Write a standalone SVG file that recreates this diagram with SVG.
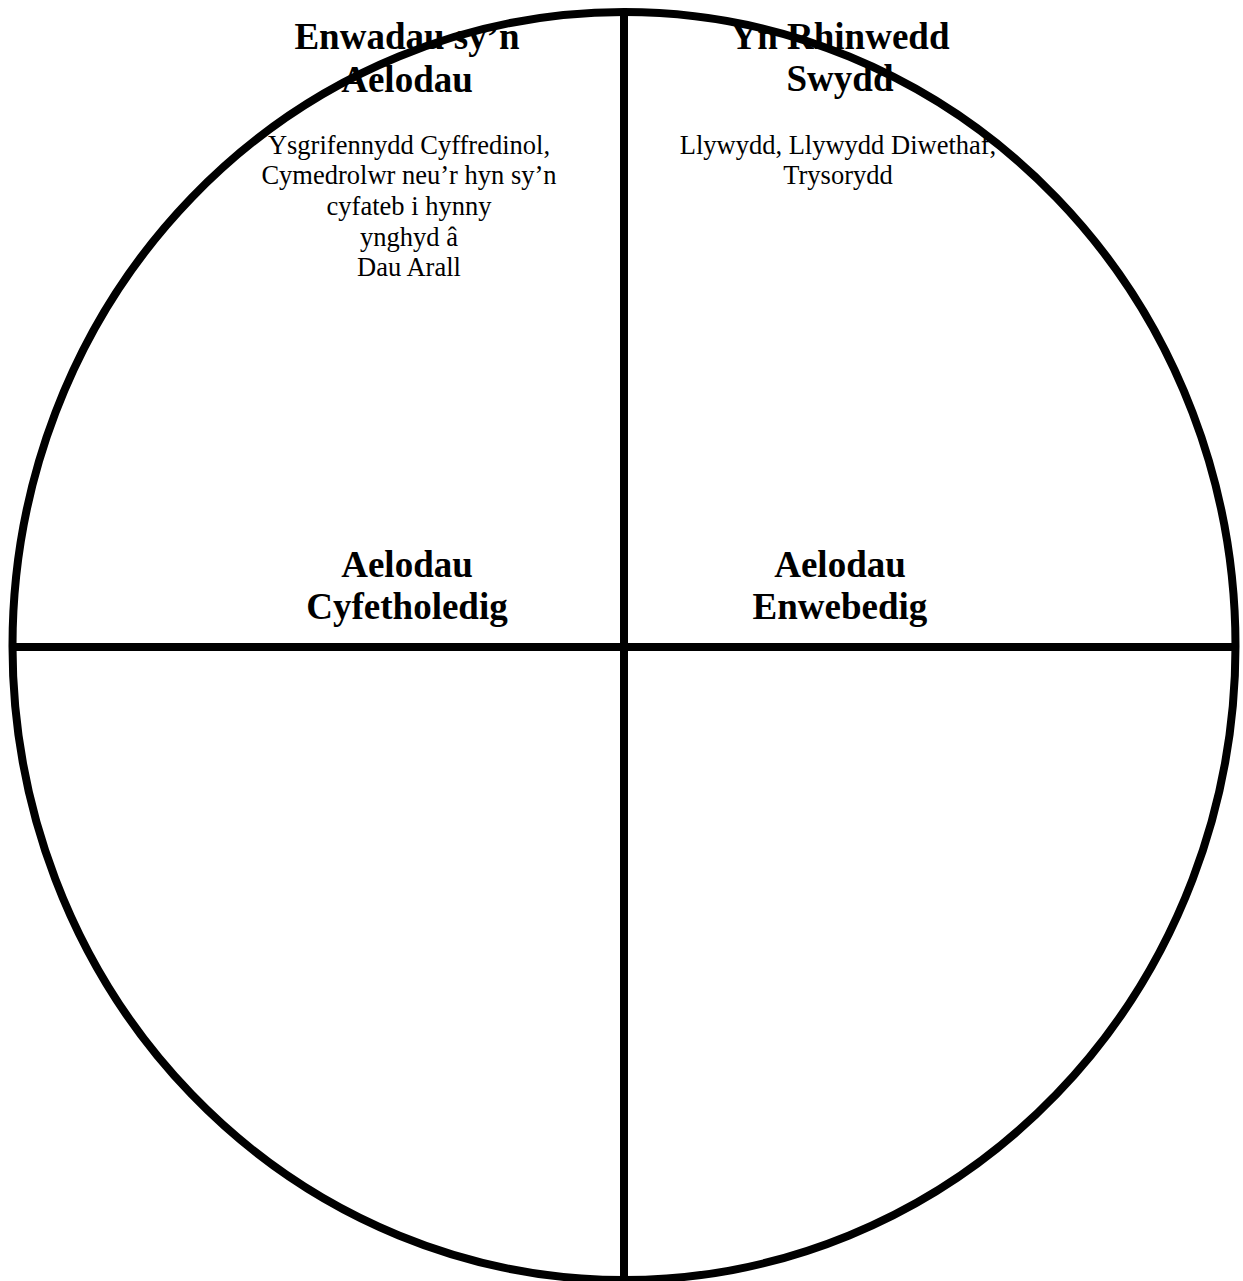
<svg xmlns="http://www.w3.org/2000/svg" width="1243" height="1281" viewBox="0 0 1243 1281">
<style>
.h{font-family:"Liberation Serif","Times New Roman",serif;font-weight:bold;font-size:37px;fill:#000;text-anchor:middle}
.b{font-family:"Liberation Serif","Times New Roman",serif;font-size:26.5px;fill:#000;text-anchor:middle}
.ln{stroke:#000;stroke-width:8;fill:none}
</style>
<rect width="1243" height="1281" fill="#fff"/>
<g id="q-top-left">
<text class="h" x="407" y="49">Enwadau sy’n</text>
<text class="h" x="407" y="92">Aelodau</text>
<text class="b" x="409" y="154">Ysgrifennydd Cyffredinol,</text>
<text class="b" x="409" y="184">Cymedrolwr neu’r hyn sy’n</text>
<text class="b" x="409" y="215">cyfateb i hynny</text>
<text class="b" x="409" y="246">ynghyd â</text>
<text class="b" x="409" y="276">Dau Arall</text>
</g>
<g id="q-top-right">
<text class="h" x="840" y="49">Yn Rhinwedd</text>
<text class="h" x="840" y="91">Swydd</text>
<text class="b" x="838" y="154">Llywydd, Llywydd Diwethaf,</text>
<text class="b" x="838" y="184">Trysorydd</text>
</g>
<g id="q-bottom-left">
<text class="h" x="407" y="577">Aelodau</text>
<text class="h" x="407" y="619">Cyfetholedig</text>
</g>
<g id="q-bottom-right">
<text class="h" x="840" y="577">Aelodau</text>
<text class="h" x="840" y="619">Enwebedig</text>
</g>
<g id="connectors">
<ellipse class="ln" cx="624" cy="646" rx="611.5" ry="634"/>
<line class="ln" x1="624" y1="12" x2="624" y2="1281"/>
<line class="ln" x1="12" y1="647" x2="1236" y2="647"/>
</g>
</svg>
